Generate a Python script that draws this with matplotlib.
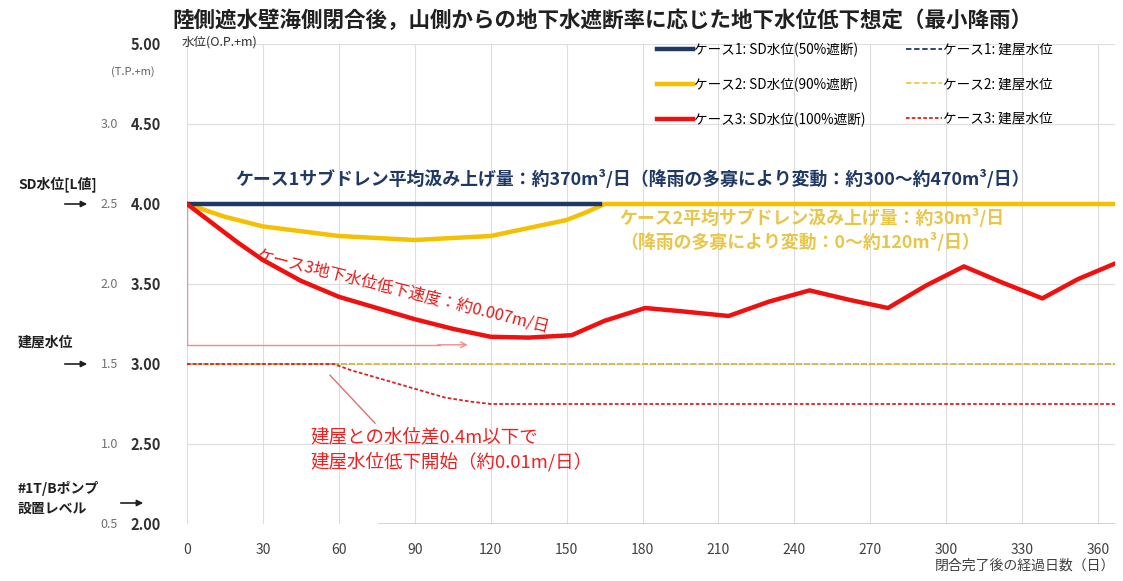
import matplotlib.pyplot as plt
import numpy as np

plt.rcParams['font.family'] = ['Noto Sans CJK JP', 'DejaVu Sans']

# data (days after closure, water level O.P.+m)
days_c1 = [0, 163]
sd_c1 = [4.00, 4.00]

days_c2 = [0, 15, 30, 60, 90, 120, 150, 158, 165, 367]
sd_c2 = [4.00, 3.92, 3.86, 3.80, 3.775, 3.80, 3.90, 3.95, 4.00, 4.00]

days_c3 = [0, 10, 20, 30, 45, 60, 75, 90, 105, 120, 135, 152, 165, 181, 195, 214,
           230, 246, 262, 277, 292, 307, 322, 338, 352, 367]
sd_c3 = [4.00, 3.88, 3.76, 3.65, 3.52, 3.42, 3.35, 3.28, 3.22, 3.17, 3.165, 3.18, 3.27,
         3.35, 3.33, 3.30, 3.39, 3.46, 3.40, 3.35, 3.49, 3.61, 3.51, 3.41, 3.53, 3.63]

days_b12 = [0, 367]
bldg_c1 = [3.00, 3.00]
bldg_c2 = [3.00, 3.00]

days_b3 = [0, 58, 65, 76, 89, 102, 112, 120, 367]
bldg_c3 = [3.00, 3.00, 2.96, 2.91, 2.85, 2.79, 2.765, 2.75, 2.75]

xticks = list(range(0, 361, 30))
yticks = [2.0, 2.5, 3.0, 3.5, 4.0, 4.5, 5.0]
tp_labels = ['0.5', '1.0', '1.5', '2.0', '2.5', '3.0']
tp_pos = [2.0, 2.5, 3.0, 3.5, 4.0, 4.5]

navy = '#1F3864'
gold = '#F5C000'
red = '#F01010'

W, H = 1123, 581
fig = plt.figure(figsize=(W / 100, H / 100), dpi=100)
ax = fig.add_axes([187 / W, 1 - 524 / H, 928 / W, 480 / H])

def fx(px):
    return px / W

def fy(py):
    return 1 - py / H

ax.plot(days_b12, bldg_c1, color=navy, lw=1.3, ls=(0, (3, 1.5)),
        label='ケース1: 建屋水位', zorder=3)
ax.plot(days_b12, bldg_c2, color='#F2C84B', lw=1.3, ls=(0, (3, 1.5)),
        label='ケース2: 建屋水位', zorder=3)
ax.plot(days_b3, bldg_c3, color='#E02020', lw=1.3, ls=(0, (2, 1.2)),
        label='ケース3: 建屋水位', zorder=4)
ax.plot(days_c2, sd_c2, color=gold, lw=3.2, label='ケース2: SD水位(90%遮断)', zorder=5)
ax.plot(days_c1, sd_c1, color=navy, lw=3.2, label='ケース1: SD水位(50%遮断)', zorder=6)
ax.plot(days_c3, sd_c3, color=red, lw=3.2, label='ケース3: SD水位(100%遮断)', zorder=6)

ax.set_xlim(0, 366.7)
ax.set_ylim(2.0, 5.0)
ax.set_xticks(xticks)
ax.set_yticks(yticks)
ax.set_yticklabels([f'{v:.2f}' for v in yticks], fontsize=10.5, fontweight='bold', color='#303030')
ax.set_xticklabels([str(v) for v in xticks], fontsize=10, color='#404040')
ax.tick_params(axis='both', length=0)
ax.tick_params(axis='y', pad=19)
ax.tick_params(axis='x', pad=14)
ax.grid(True, color='#DDDDDD', lw=0.8)
for s in ax.spines.values():
    s.set_visible(False)
ax.axhline(2.0, xmin=76 / 366.7, color='#CCCCCC', lw=1.2, zorder=2)

# legend
h, l = ax.get_legend_handles_labels()
order = [4, 3, 5, 0, 1, 2]
ax.legend([h[i] for i in order], [l[i] for i in order], ncol=2, frameon=False,
          loc='upper left', bbox_to_anchor=(fx(645), fy(30)), bbox_transform=fig.transFigure,
          fontsize=9.8, handlelength=2.6, handletextpad=0.1, columnspacing=3.0,
          labelspacing=1.5)

# title and axis texts
fig.text(fx(602), fy(20), '陸側遮水壁海側閉合後，山側からの地下水遮断率に応じた地下水位低下想定（最小降雨）',
         ha='center', va='center', fontsize=15.5, fontweight='bold', color='#202020')
fig.text(fx(182), fy(42), '水位(O.P.+m)', ha='left', va='center', fontsize=9, color='#303030')
fig.text(fx(1115), fy(566), '閉合完了後の経過日数（日）', ha='right', va='center',
         fontsize=10, color='#404040')

# T.P. secondary labels
fig.text(fx(133), fy(72), '(T.P.+m)', ha='center', va='center', fontsize=8, color='#606060')
for lab, v in zip(tp_labels, tp_pos):
    py = 44 + (5.0 - v) * 160
    fig.text(fx(118), fy(py), lab, ha='right', va='center', fontsize=9, color='#707070')

fig.text(fx(18), fy(184), 'SD水位[L値]', ha='left', va='center', fontsize=10, fontweight='bold', color='#202020')
fig.text(fx(18), fy(343), '建屋水位', ha='left', va='center', fontsize=10, fontweight='bold', color='#202020')
fig.text(fx(18), fy(489), '#1T/Bポンプ', ha='left', va='center', fontsize=10, fontweight='bold', color='#202020')
fig.text(fx(18), fy(509), '設置レベル', ha='left', va='center', fontsize=10, fontweight='bold', color='#202020')
for (x0, x1, py) in [(62, 90, 204), (62, 90, 364), (118, 146, 503)]:
    fig.add_artist(plt.matplotlib.patches.FancyArrowPatch(
        (fx(x0), fy(py)), (fx(x1), fy(py)), transform=fig.transFigure,
        arrowstyle='-|>', mutation_scale=9, color='#202020', lw=1.2))

# annotations
ax.text(19, 4.15, 'ケース1サブドレン平均汲み上げ量：約370m³/日（降雨の多寡により変動：約300～約470m³/日）',
        ha='left', va='center', fontsize=12.9, fontweight='bold', color=navy)
ax.text(171, 3.91, 'ケース2平均サブドレン汲み上げ量：約30m³/日', ha='left', va='center',
        fontsize=12.9, fontweight='bold', color='#E8C648')
ax.text(171, 3.76, '（降雨の多寡により変動：0～約120m³/日）', ha='left', va='center',
        fontsize=12.9, fontweight='bold', color='#E8C648')
ax.text(28, 3.68, 'ケース3地下水位低下速度：約0.007m/日', ha='left', va='center',
        rotation=-14, rotation_mode='anchor', fontsize=11.8, color='#E81818')
ax.plot([0, 0, 100], [4.0, 3.12, 3.12], color='#F08C8C', lw=1, zorder=2)
ax.annotate('', xy=(112, 3.12), xytext=(98, 3.12),
            arrowprops=dict(arrowstyle='->', color='#F08C8C', lw=1))
ax.plot([56.5, 74.3], [2.93, 2.63], color='#E07070', lw=1)
ax.text(48.6, 2.54, '建屋との水位差0.4m以下で', ha='left', va='center', fontsize=13.3, color='#F02020')
ax.text(48.6, 2.39, '建屋水位低下開始（約0.01m/日）', ha='left', va='center', fontsize=13.3, color='#F02020')

fig.savefig('out.png', dpi=100)
